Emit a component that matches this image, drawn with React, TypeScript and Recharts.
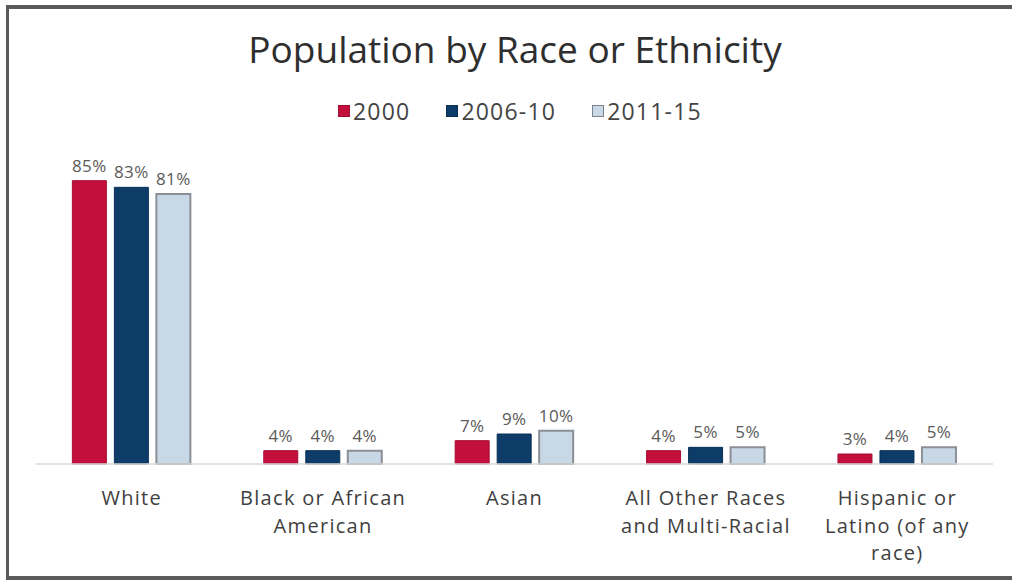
import React from "react";
import { BarChart, Bar, XAxis, YAxis, LabelList } from "recharts";

const categories = [
  "White",
  "Black or African American",
  "Asian",
  "All Other Races and Multi-Racial",
  "Hispanic or Latino (of any race)",
];
const tickLines: string[][] = [
  ["White"],
  ["Black or African", "American"],
  ["Asian"],
  ["All Other Races", "and Multi-Racial"],
  ["Hispanic or", "Latino (of any", "race)"],
];
const series2000 = [85, 4, 7, 4, 3];
const series2006 = [83, 4, 9, 5, 4];
const series2011 = [81, 4, 10, 5, 5];
const seriesNames = ["2000", "2006-10", "2011-15"];

const data = categories.map((c, i) => ({
  name: c,
  s2000: series2000[i],
  s2006: series2006[i],
  s2011: series2011[i],
}));

const FONT = "'Open Sans', Lato, sans-serif";

const colors = {
  red: "#c20f3c",
  navy: "#0d3c68",
  light: "#c9d8e7",
  lightStroke: "#8b9096",
};

const CategoryTick = (props: any) => {
  const { x, y, index } = props;
  const lines = tickLines[index] || [];
  return (
    <g transform={`translate(${x},${y})`}>
      <text
        x={0}
        y={33}
        textAnchor="middle"
        fill="#3f3f3f"
        fontSize={20}
        letterSpacing={1.3}
        fontFamily={FONT}
      >
        {lines.map((l, i) => (
          <tspan key={i} x={0} dy={i === 0 ? 0 : 27.6}>
            {l}
          </tspan>
        ))}
      </text>
    </g>
  );
};

const legendItems = [
  { name: seriesNames[0], fill: colors.red, stroke: "#9a0c30" },
  { name: seriesNames[1], fill: colors.navy, stroke: "#0a2e50" },
  { name: seriesNames[2], fill: colors.light, stroke: "#7d8288" },
];

const pct = (v: any) => `${v}%`;

export default function App() {
  return (
    <div
      style={{
        position: "absolute",
        left: 0,
        top: 0,
        width: 1012,
        height: 584,
        background: "#ffffff",
        overflow: "hidden",
      }}
    >
      <div
        style={{
          position: "absolute",
          left: 6,
          top: 5,
          width: 1010,
          height: 575,
          borderTop: "4px solid #5a5a5a",
          borderLeft: "3px solid #5a5a5a",
          borderBottom: "4px solid #5a5a5a",
          boxSizing: "border-box",
        }}
      />
      <div
        style={{
          position: "absolute",
          left: 0,
          top: 23,
          width: 1030,
          textAlign: "center",
          fontFamily: FONT,
          fontSize: 37,
          color: "#2e2e2e",
        }}
      >
        Population by Race or Ethnicity
      </div>
      <div
        style={{
          position: "absolute",
          left: 338,
          top: 95,
          display: "flex",
          alignItems: "center",
          fontFamily: FONT,
          fontSize: 23,
          color: "#444444",
          gap: 36,
        }}
      >
        {legendItems.map((it) => (
          <div key={it.name} style={{ display: "flex", alignItems: "center" }}>
            <span
              style={{
                display: "inline-block",
                width: 10,
                height: 10,
                background: it.fill,
                border: `1px solid ${it.stroke}`,
                marginRight: 3,
              }}
            />
            <span style={{ letterSpacing: 1.2 }}>{it.name}</span>
          </div>
        ))}
      </div>
      <div style={{ position: "absolute", left: 0, top: 0 }}>
        <BarChart
          width={1012}
          height={584}
          data={data}
          margin={{ top: 164, right: 19, bottom: 0, left: 36 }}
          barCategoryGap="19%"
          barGap={8}
        >
          <XAxis
            dataKey="name"
            axisLine={{ stroke: "#d9d9d9", strokeWidth: 1.5 }}
            tickLine={false}
            tick={<CategoryTick />}
            interval={0}
            height={120}
          />
          <YAxis hide domain={[0, 90]} />
          <Bar dataKey="s2000" name={seriesNames[0]} fill={colors.red} stroke="#a80d34" strokeWidth={1} isAnimationActive={false}>
            <LabelList dataKey="s2000" position="top" offset={9} formatter={pct} fill="#5a5a5a" fontSize={17} letterSpacing={0.4} fontFamily={FONT} />
          </Bar>
          <Bar dataKey="s2006" name={seriesNames[1]} fill={colors.navy} stroke="#0a3056" strokeWidth={1} isAnimationActive={false}>
            <LabelList dataKey="s2006" position="top" offset={9} formatter={pct} fill="#5a5a5a" fontSize={17} letterSpacing={0.4} fontFamily={FONT} />
          </Bar>
          <Bar dataKey="s2011" name={seriesNames[2]} fill={colors.light} stroke={colors.lightStroke} strokeWidth={2} isAnimationActive={false}>
            <LabelList dataKey="s2011" position="top" offset={9} formatter={pct} fill="#5a5a5a" fontSize={17} letterSpacing={0.4} fontFamily={FONT} />
          </Bar>
        </BarChart>
      </div>
    </div>
  );
}
